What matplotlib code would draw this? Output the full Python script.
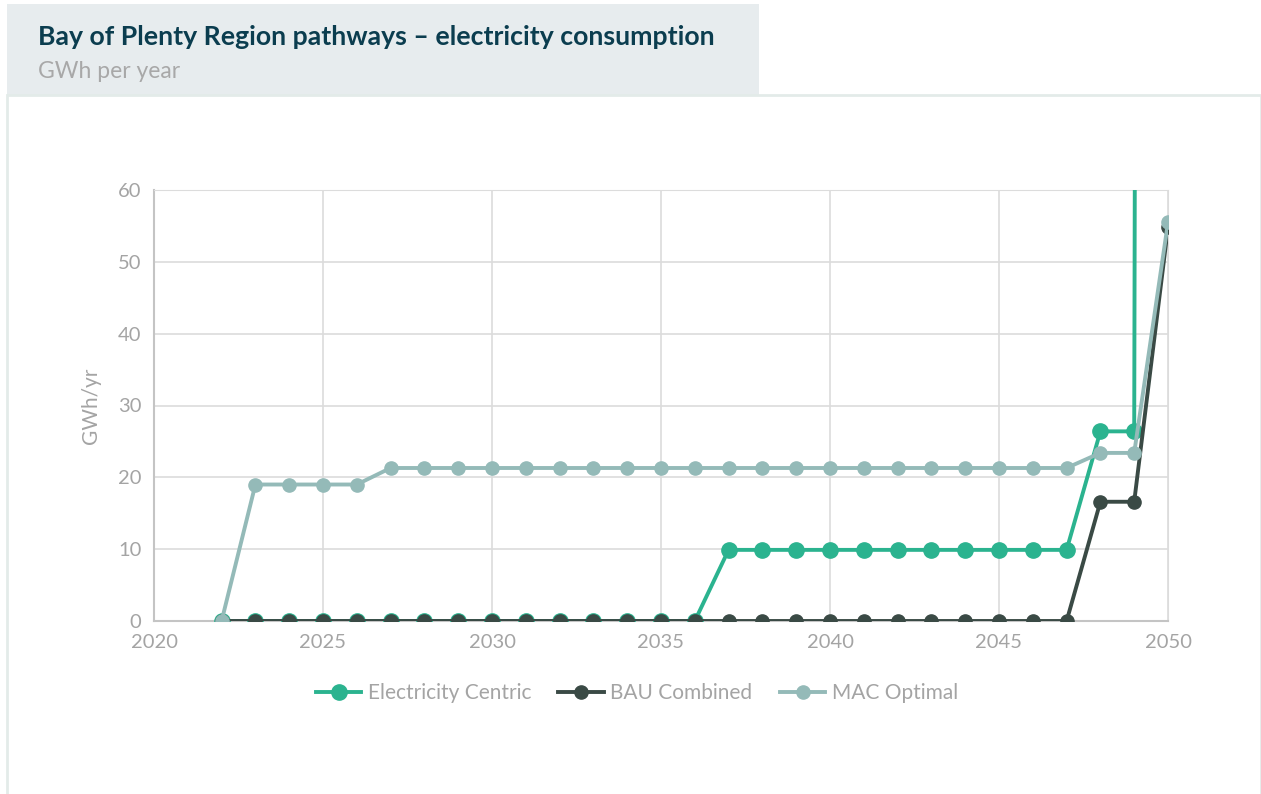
import matplotlib.pyplot as plt
from matplotlib.patches import Rectangle

# dados
anos = list(range(2022, 2051))
elec_centric = [0] * 15 + [9.9] * 11 + [26.4, 26.4, 2000]
bau_combined = [0] * 26 + [16.6, 16.6, 54.8]
mac_optimal = [0] + [19.0] * 4 + [21.3] * 21 + [23.4, 23.4, 55.5]

series = [
    ("Electricity Centric", elec_centric, "#2bb38f", 11),
    ("BAU Combined", bau_combined, "#3a4a45", 9.5),
    ("MAC Optimal", mac_optimal, "#94bab8", 9.5),
]

plt.rcParams['font.family'] = ['Lato', 'DejaVu Sans']
cinza = "#a4a4a4"

fig = plt.figure(figsize=(12.61, 7.94), dpi=100)

# caixa do titulo e painel
fig.patches.append(Rectangle((7 / 1261, 1 - 95 / 794), 752 / 1261, 91 / 794,
                             transform=fig.transFigure, facecolor="#e7ecee",
                             edgecolor="none", zorder=-2))
fig.patches.append(Rectangle((7 / 1261, -0.01), 1254 / 1261, 1 - 95 / 794 + 0.01,
                             transform=fig.transFigure, facecolor="white",
                             edgecolor="#e3ebe9", linewidth=2, zorder=-1))
fig.text(38 / 1261, 1 - 37 / 794, "Bay of Plenty Region pathways – electricity consumption",
         fontsize=19.2, fontweight="bold", color="#0b3d4f", va="center")
fig.text(38 / 1261, 1 - 71 / 794, "GWh per year", fontsize=16.5, color="#a8a8a8", va="center")

ax = fig.add_axes([154 / 1261, 1 - 621 / 794, (1168 - 154) / 1261, (621 - 190) / 794])
ax.set_zorder(2)
for nome, valores, cor, ms in series:
    ax.plot(anos, valores, color=cor, linewidth=2.8, marker="o", markersize=ms,
            label=nome, zorder=3)

ax.set_xlim(2020, 2050)
ax.set_ylim(0, 60)
ax.set_xticks(range(2020, 2051, 5))
ax.set_yticks(range(0, 61, 10))
ax.grid(True, color="#dcdcdc", linewidth=1.2)
ax.set_axisbelow(True)
for lado in ["top", "right"]:
    ax.spines[lado].set_color("#dcdcdc")
for lado in ["left", "bottom"]:
    ax.spines[lado].set_color("#c4c4c4")
    ax.spines[lado].set_linewidth(1.5)
ax.tick_params(length=0, labelsize=14.5, colors=cinza, pad=9)
ax.set_ylabel("GWh/yr", fontsize=15, color=cinza, labelpad=12)

leg = fig.legend(loc="center", bbox_to_anchor=(0.505, 1 - 693 / 794), ncol=3, frameon=False,
                 fontsize=15, labelcolor=cinza, handlelength=2.2, columnspacing=1.3,
                 handletextpad=0.3)
leg.set_zorder(3)

fig.savefig("out.png", dpi=100)
